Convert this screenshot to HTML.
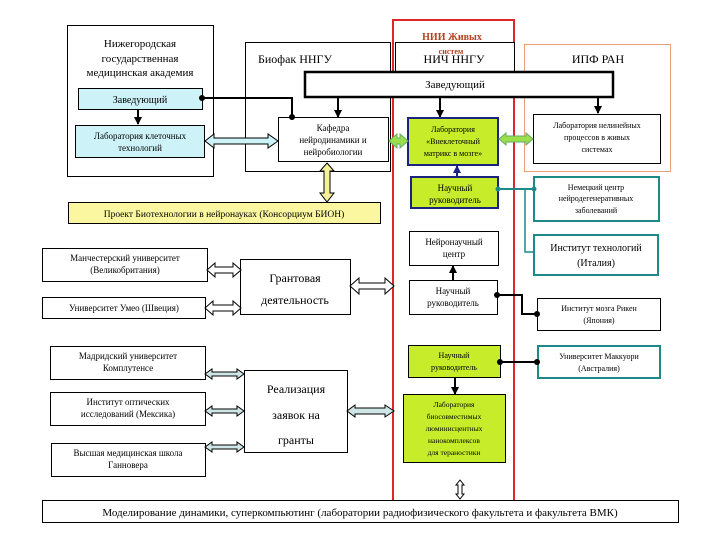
<!DOCTYPE html>
<html><head><meta charset="utf-8"><style>
body{margin:0;background:#fff}
svg{display:block}
text{font-family:"Liberation Serif",serif;fill:#000;text-anchor:middle}
</style></head><body>
<svg width="720" height="540" viewBox="0 0 720 540" xmlns="http://www.w3.org/2000/svg">
<defs>
<marker id="ah" markerUnits="userSpaceOnUse" markerWidth="8" markerHeight="8" refX="7" refY="4" orient="auto"><path d="M0,0L8,4L0,8z" fill="#000"/></marker>
<marker id="ahn" markerUnits="userSpaceOnUse" markerWidth="8" markerHeight="8" refX="7" refY="4" orient="auto"><path d="M0,0L8,4L0,8z" fill="#1a237e"/></marker>
</defs>
<rect width="720" height="540" fill="#fff"/>
<rect x="67.5" y="25.5" width="146" height="151" fill="#fff" stroke="#000"/>
<text x="140" y="47" font-size="11">Нижегородская</text>
<text x="140" y="62" font-size="11">государственная</text>
<text x="140" y="76" font-size="11">медицинская академия</text>
<rect x="78.5" y="88.5" width="124" height="21" fill="#cdf3f8" stroke="#000"/>
<text x="140" y="103" font-size="10">Заведующий</text>
<rect x="75.5" y="125.5" width="129" height="32" fill="#cdf3f8" stroke="#000"/>
<text x="140" y="139" font-size="9">Лаборатория клеточных</text>
<text x="140" y="151" font-size="9">технологий</text>
<line x1="138" y1="110" x2="138" y2="124" stroke="#000" stroke-width="2" marker-end="url(#ah)"/>
<rect x="245.5" y="42.5" width="145" height="129" fill="#fff" stroke="#000"/>
<text x="295" y="63" font-size="12">Биофак ННГУ</text>
<rect x="278.5" y="117.5" width="110" height="44" fill="#fff" stroke="#000"/>
<text x="333" y="131" font-size="9">Кафедра</text>
<text x="333" y="143" font-size="9">нейродинамики и</text>
<text x="333" y="155" font-size="9">нейробиологии</text>
<rect x="393" y="20" width="121" height="490" fill="#fff" stroke="#e0262b" stroke-width="2"/>
<rect x="395.5" y="42.5" width="119" height="30" fill="#fff" stroke="#000"/>
<text x="454" y="63" font-size="12">НИЧ ННГУ</text>
<text x="452" y="40" font-size="10" font-weight="bold" style="fill:#b2411e">НИИ Живых</text>
<text x="451" y="54" font-size="8" font-weight="bold" style="fill:#b2411e">систем</text>
<rect x="524.5" y="44.5" width="146" height="127" fill="#fff" stroke="#e8a07a"/>
<text x="598" y="63" font-size="12">ИПФ РАН</text>
<rect x="305" y="72" width="308" height="25" fill="#fff" stroke="#000" stroke-width="2.5"/>
<text x="455" y="88" font-size="11">Заведующий</text>
<line x1="440" y1="98" x2="440" y2="117" stroke="#000" stroke-width="2" marker-end="url(#ah)"/>
<line x1="598" y1="98" x2="598" y2="113" stroke="#000" stroke-width="2" marker-end="url(#ah)"/>
<line x1="338" y1="98" x2="338" y2="117" stroke="#000" stroke-width="2" marker-end="url(#ah)"/>
<polyline points="202,98 292,98 292,117" fill="none" stroke="#000" stroke-width="2"/>
<circle cx="202" cy="98" r="3"/><circle cx="292" cy="117" r="3"/>
<rect x="408" y="118" width="90" height="47" fill="#c6ec2a" stroke="#1a237e" stroke-width="2"/>
<text x="453" y="132" font-size="8">Лаборатория</text>
<text x="453" y="144" font-size="8">«Внеклеточный</text>
<text x="453" y="156" font-size="8">матрикс в мозге»</text>
<rect x="533.5" y="114.5" width="127" height="49" fill="#fff" stroke="#000"/>
<text x="597" y="128" font-size="8">Лаборатория нелинейных</text>
<text x="597" y="140" font-size="8">процессов в живых</text>
<text x="597" y="152" font-size="8">системах</text>
<rect x="411" y="177" width="87" height="31" fill="#c6ec2a" stroke="#1a237e" stroke-width="2"/>
<text x="455" y="191" font-size="9">Научный</text>
<text x="455" y="203" font-size="9">руководитель</text>
<line x1="457" y1="176" x2="457" y2="166" stroke="#1a237e" stroke-width="2" marker-end="url(#ahn)"/>
<rect x="534" y="177" width="125" height="44" fill="#fff" stroke="#1d8a8a" stroke-width="2"/>
<text x="596" y="190" font-size="8">Немецкий центр</text>
<text x="596" y="201" font-size="8">нейродегенеративных</text>
<text x="596" y="213" font-size="8">заболеваний</text>
<polyline points="498,189 534,189" fill="none" stroke="#1d8a8a" stroke-width="2"/>
<polyline points="525,189 525,252 534,252" fill="none" stroke="#1d8a8a" stroke-width="1.5"/>
<circle cx="498" cy="189" r="2.5" fill="#1d8a8a"/><circle cx="534" cy="189" r="2.5" fill="#1d8a8a"/>
<rect x="68.5" y="202.5" width="312" height="21" fill="#fbf7a0" stroke="#000"/>
<text x="224" y="217" font-size="9.5">Проект Биотехнологии в нейронауках (Консорциум БИОН)</text>
<path d="M327,163 L334,171 L330,171 L330,193 L334,193 L327,202 L320,193 L324,193 L324,171 L320,171Z" fill="#f5f09a" stroke="#000"/>
<path d="M205,141 L214,134 L214,138 L268,138 L268,134 L278,141 L268,148 L268,144 L214,144 L214,148Z" fill="#cdf3f8" stroke="#000"/>
<path d="M389,141 L397,134 L397,138 L400,138 L400,134 L408,141 L400,148 L400,144 L397,144 L397,148Z" fill="#9be04a" stroke="#6a6"/>
<path d="M499,139 L506,133 L506,136 L526,136 L526,133 L533,139 L526,145 L526,142 L506,142 L506,145Z" fill="#9be04a" stroke="#6a6"/>
<rect x="409.5" y="231.5" width="89" height="34" fill="#fff" stroke="#000"/>
<text x="454" y="245" font-size="9">Нейронаучный</text>
<text x="454" y="257" font-size="9">центр</text>
<rect x="534" y="235" width="124" height="40" fill="#fff" stroke="#1d8a8a" stroke-width="2"/>
<text x="596" y="251" font-size="10">Институт технологий</text>
<text x="596" y="266" font-size="10">(Италия)</text>
<rect x="409.5" y="280.5" width="88" height="34" fill="#fff" stroke="#000"/>
<text x="453" y="294" font-size="9">Научный</text>
<text x="453" y="306" font-size="9">руководитель</text>
<line x1="453" y1="280" x2="453" y2="266" stroke="#000" stroke-width="2" marker-end="url(#ah)"/>
<rect x="537.5" y="298.5" width="123" height="32" fill="#fff" stroke="#000"/>
<text x="599" y="311" font-size="8">Институт мозга Рикен</text>
<text x="599" y="323" font-size="8">(Япония)</text>
<polyline points="497,295 522,295 522,314 537,314" fill="none" stroke="#000" stroke-width="2"/>
<circle cx="497" cy="295" r="3"/><circle cx="537" cy="314" r="3"/>
<rect x="408.5" y="345.5" width="92" height="32" fill="#c6ec2a" stroke="#000"/>
<text x="454" y="358" font-size="8">Научный</text>
<text x="454" y="370" font-size="8">руководитель</text>
<rect x="538" y="346" width="122" height="32" fill="#fff" stroke="#1d8a8a" stroke-width="2"/>
<text x="599" y="359" font-size="8">Университет Маккуори</text>
<text x="599" y="371" font-size="8">(Австралия)</text>
<line x1="500" y1="362" x2="537" y2="362" stroke="#000" stroke-width="2"/>
<circle cx="500" cy="362" r="3"/><circle cx="537" cy="362" r="3"/>
<line x1="455" y1="378" x2="455" y2="394" stroke="#000" stroke-width="2" marker-end="url(#ah)"/>
<rect x="403.5" y="394.5" width="102" height="68" fill="#c6ec2a" stroke="#000"/>
<text x="454" y="407" font-size="7.5">Лаборатория</text>
<text x="454" y="419" font-size="7.5">биосовместимых</text>
<text x="454" y="431" font-size="7.5">люминисцентных</text>
<text x="454" y="443" font-size="7.5">нанокомплексов</text>
<text x="454" y="455" font-size="7.5">для тераностики</text>
<rect x="42.5" y="248.5" width="165" height="33" fill="#fff" stroke="#000"/>
<text x="125" y="261" font-size="9">Манчестерский университет</text>
<text x="125" y="273" font-size="9">(Великобритания)</text>
<rect x="42.5" y="297.5" width="163" height="21" fill="#fff" stroke="#000"/>
<text x="124" y="311" font-size="9">Университет Умео (Швеция)</text>
<rect x="240.5" y="259.5" width="110" height="55" fill="#fff" stroke="#000"/>
<text x="295" y="282" font-size="12">Грантовая</text>
<text x="295" y="304" font-size="12">деятельность</text>
<rect x="50.5" y="346.5" width="155" height="33" fill="#fff" stroke="#000"/>
<text x="128" y="359" font-size="9">Мадридский университет</text>
<text x="128" y="371" font-size="9">Комплутенсе</text>
<rect x="50.5" y="392.5" width="155" height="33" fill="#fff" stroke="#000"/>
<text x="128" y="405" font-size="9">Институт оптических</text>
<text x="128" y="417" font-size="9">исследований (Мексика)</text>
<rect x="51.5" y="443.5" width="154" height="33" fill="#fff" stroke="#000"/>
<text x="128" y="456" font-size="9">Высшая медицинская школа</text>
<text x="128" y="468" font-size="9">Ганновера</text>
<rect x="244.5" y="370.5" width="103" height="82" fill="#fff" stroke="#000"/>
<text x="296" y="393" font-size="12">Реализация</text>
<text x="296" y="419" font-size="12">заявок на</text>
<text x="296" y="444" font-size="12">гранты</text>
<path d="M207,270 L215,263 L215,267 L233,267 L233,263 L241,270 L233,277 L233,273 L215,273 L215,277Z" fill="#fff" stroke="#000"/>
<path d="M205,308 L213,301 L213,305 L233,305 L233,301 L241,308 L233,315 L233,311 L213,311 L213,315Z" fill="#fff" stroke="#000"/>
<path d="M350,286 L359,278 L359,283 L385,283 L385,278 L394,286 L385,294 L385,289 L359,289 L359,294Z" fill="#fff" stroke="#000"/>
<path d="M205,374 L212,369 L212,372 L237,372 L237,369 L244,374 L237,379 L237,376 L212,376 L212,379Z" fill="#cfe6e6" stroke="#000"/>
<path d="M205,411 L212,406 L212,409 L237,409 L237,406 L244,411 L237,416 L237,413 L212,413 L212,416Z" fill="#cfe6e6" stroke="#000"/>
<path d="M205,447 L212,442 L212,445 L237,445 L237,442 L244,447 L237,452 L237,449 L212,449 L212,452Z" fill="#cfe6e6" stroke="#000"/>
<path d="M347,411 L355,405 L355,408 L385,408 L385,405 L394,411 L385,417 L385,414 L355,414 L355,417Z" fill="#cfe6e6" stroke="#000"/>
<path d="M460,480 L464,485 L462,485 L462,494 L464,494 L460,499 L456,494 L458,494 L458,485 L456,485Z" fill="#fff" stroke="#000"/>
<rect x="42.5" y="500.5" width="636" height="22" fill="#fff" stroke="#000"/>
<text x="360" y="516" font-size="11">Моделирование динамики, суперкомпьютинг  (лаборатории радиофизического факультета и факультета ВМК)</text>
</svg>
</body></html>
